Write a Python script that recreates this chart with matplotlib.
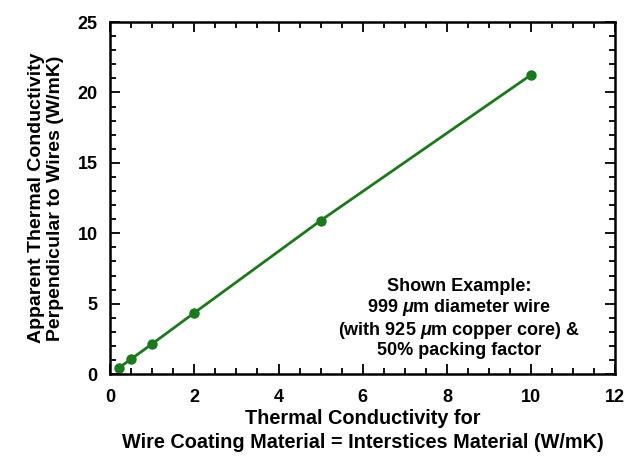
import matplotlib.pyplot as plt
from matplotlib.ticker import MultipleLocator

plt.rcParams['font.family'] = ['Liberation Sans', 'DejaVu Sans']
plt.rcParams['font.weight'] = 'bold'
plt.rcParams['mathtext.fontset'] = 'custom'
plt.rcParams['mathtext.it'] = 'Liberation Sans:italic:bold'
plt.rcParams['mathtext.rm'] = 'Liberation Sans:bold'

k_coating = [0.2, 0.5, 1, 2, 5, 10]
k_apparent = [0.43, 1.07, 2.15, 4.35, 10.9, 21.25]

fig = plt.figure(figsize=(6.33, 4.59), dpi=100)
ax = fig.add_axes([0.174, 0.185, 0.798, 0.767])

ax.plot(k_coating, k_apparent, color='#1c781c', lw=2.0, marker='o', ms=6.5)

ax.set_xlim(0, 12)
ax.set_ylim(0, 25)
ax.xaxis.set_major_locator(MultipleLocator(2))
ax.xaxis.set_minor_locator(MultipleLocator(0.5))
ax.yaxis.set_major_locator(MultipleLocator(5))
ax.yaxis.set_minor_locator(MultipleLocator(1))
ax.tick_params(which='both', direction='in', top=True, right=True, width=1.3)
ax.tick_params(which='major', length=7, labelsize=13)
ax.tick_params(axis='x', which='major', pad=11)
ax.tick_params(axis='y', which='major', pad=9)
ax.tick_params(which='minor', length=4)
for s in ax.spines.values():
    s.set_linewidth(1.8)

ax.set_xlabel('Thermal Conductivity for\nWire Coating Material = Interstices Material (W/mK)',
              fontsize=14.3, fontweight='bold', labelpad=2, linespacing=1.35)
ax.set_ylabel('Apparent Thermal Conductivity\nPerpendicular to Wires (W/mK)',
              fontsize=14, fontweight='bold', labelpad=10, linespacing=1.1)

ax.text(8.3, 6.8, 'Shown Example:\n999 $\\mu$m diameter wire\n(with 925 $\\mu$m copper core) &\n50% packing factor',
        ha='center', va='top', fontsize=13, fontweight='bold', linespacing=1.12)

fig.savefig('out.png', dpi=100)
